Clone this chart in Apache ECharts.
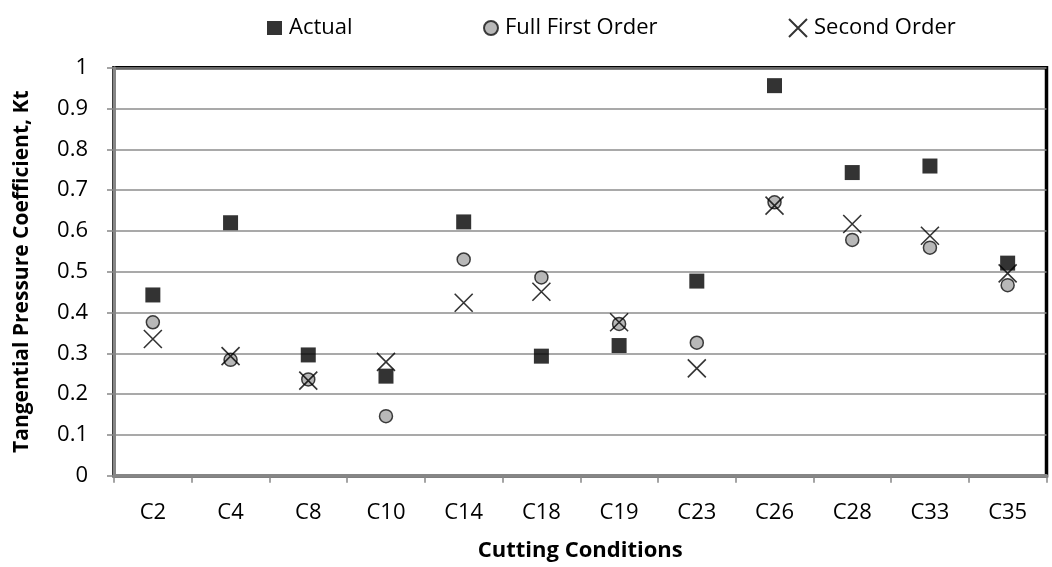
<!DOCTYPE html>
<html>
<head>
<meta charset="utf-8">
<title>Tangential Pressure Coefficient</title>
<script src="https://cdn.jsdelivr.net/npm/echarts@6/dist/echarts.min.js"></script>
<style>
  html, body { margin: 0; padding: 0; background: #fff; }
  #chart { width: 1052px; height: 567px; }
</style>
</head>
<body>
<div id="chart"></div>
<script>
// Cutting conditions along the x axis
const categories = ['C2', 'C4', 'C8', 'C10', 'C14', 'C18', 'C19', 'C23', 'C26', 'C28', 'C33', 'C35'];

// Tangential pressure coefficient Kt per condition
const actual          = [0.443, 0.620, 0.296, 0.244, 0.622, 0.293, 0.319, 0.477, 0.956, 0.743, 0.759, 0.521];
const fullFirstOrder  = [0.376, 0.284, 0.236, 0.146, 0.530, 0.486, 0.372, 0.326, 0.670, 0.578, 0.559, 0.467];
const secondOrder     = [0.335, 0.293, 0.233, 0.279, 0.424, 0.451, 0.376, 0.263, 0.662, 0.617, 0.588, 0.496];

// Value-axis tick labels, 0 to 1 in steps of 0.1
const yTickLabels = ['0', '0.1', '0.2', '0.3', '0.4', '0.5', '0.6', '0.7', '0.8', '0.9', '1'];

const FONT = '"Open Sans", "Noto Sans", sans-serif';
const AXIS_GREY = '#868686';
const CROSS = 'path://M0,0L10,10M10,0L0,10';

const chart = echarts.init(document.getElementById('chart'), null, { renderer: 'canvas' });

function legendAt(left, name, icon, w, h) {
  return {
    left: left, top: 12,
    itemWidth: w, itemHeight: h, itemGap: 0,
    textStyle: { fontFamily: FONT, fontSize: 22, color: '#000', padding: [0, 0, 0, 2] },
    data: [{ name: name, icon: icon }],
    selectedMode: false
  };
}

chart.setOption({
  animation: false,
  backgroundColor: '#fff',
  textStyle: { fontFamily: FONT },
  legend: [
    legendAt(262, 'Actual', 'rect', 15, 14),
    legendAt(478, 'Full First Order', 'circle', 14, 14),
    legendAt(783, 'Second Order', CROSS, 18, 18)
  ],
  grid: {
    left: 114, right: 5.5, top: 67.7, bottom: 91.3,
    show: true, borderColor: '#000', borderWidth: 3.5, backgroundColor: 'transparent'
  },
  xAxis: {
    type: 'category',
    data: categories,
    boundaryGap: true,
    name: 'Cutting Conditions',
    nameLocation: 'middle',
    nameGap: 64,
    nameTextStyle: { fontFamily: FONT, fontSize: 22, fontWeight: 'bold', color: '#000' },
    axisLine: { lineStyle: { color: AXIS_GREY, width: 3 } },
    axisTick: { show: true, interval: 0, length: 7, lineStyle: { color: AXIS_GREY, width: 1.5 } },
    axisLabel: { interval: 0, margin: 26, fontFamily: FONT, fontSize: 22, color: '#000' },
    splitLine: { show: false }
  },
  yAxis: {
    type: 'value',
    min: 0, max: 1, interval: 0.1,
    name: 'Tangential Pressure Coefficient, Kt',
    nameLocation: 'middle',
    nameRotate: 90,
    nameGap: 81,
    nameTextStyle: { fontFamily: FONT, fontSize: 21, fontWeight: 'bold', color: '#000' },
    axisLine: { show: true, lineStyle: { color: AXIS_GREY, width: 3 } },
    axisTick: { show: true, length: 7, lineStyle: { color: AXIS_GREY, width: 1.5 } },
    axisLabel: {
      margin: 26, fontFamily: FONT, fontSize: 22, color: '#000',
      formatter: (v, i) => yTickLabels[i]
    },
    splitLine: { show: true, lineStyle: { color: '#8c8c8c', width: 1.5 } }
  },
  series: [
    {
      name: 'Actual', type: 'scatter', data: actual,
      symbol: 'rect', symbolSize: 15,
      itemStyle: { color: '#000' }, z: 3
    },
    {
      name: 'Full First Order', type: 'scatter', data: fullFirstOrder,
      symbol: 'circle', symbolSize: 13,
      itemStyle: { color: '#a6a6a6', borderColor: '#111', borderWidth: 1.5 }, z: 4
    },
    {
      name: 'Second Order', type: 'scatter', data: secondOrder,
      symbol: CROSS, symbolSize: 18,
      itemStyle: { color: 'rgba(0,0,0,0)', borderColor: '#000', borderWidth: 1.6 }, z: 5
    }
  ]
});
</script>
</body>
</html>
